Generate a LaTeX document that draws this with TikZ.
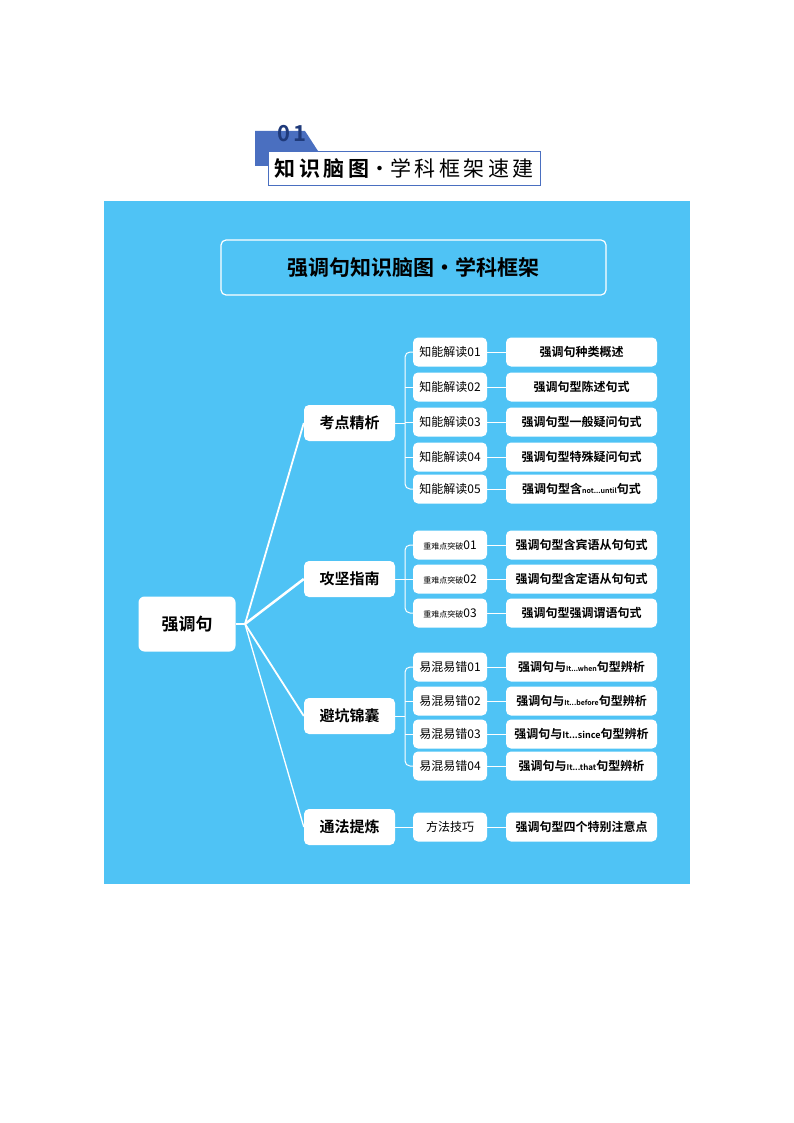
\documentclass[tikz,border=0pt]{standalone}
\usepackage{fontspec}
\setmainfont{Noto Sans CJK SC}
\newfontfamily\cjkb{Noto Sans CJK SC Bold}
\definecolor{bg}{HTML}{4FC3F5}
\definecolor{tab}{HTML}{4A6FC0}
\definecolor{dblue}{HTML}{1F3A7A}
\begin{document}
\begin{tikzpicture}[x=1pt,y=-1pt,
 l1/.style={fill=white,rounded corners=5pt,minimum width=91pt,minimum height=36pt,font=\cjkb\fontsize{15}{15}\selectfont,inner sep=0},
 l2/.style={fill=white,rounded corners=5pt,minimum width=74pt,minimum height=29pt,font=\fontsize{12}{12}\selectfont,inner sep=0},
 l3/.style={fill=white,rounded corners=5pt,minimum width=151pt,minimum height=29pt,font=\cjkb\fontsize{12}{12}\selectfont,inner sep=0},
 lk/.style={draw=white,line width=1pt},
 rt/.style={draw=white,line width=2pt}]
\useasboundingbox (0,0) rectangle (794,1123);
% header
\fill[tab] (255,131) -- (305,131) -- (318,151) -- (268,151) -- (268,166) -- (255,166) -- cycle;
\node[font=\cjkb\fontsize{22}{22}\selectfont,text=dblue] (h01) at (292,134) {0\,1};
\node[draw=tab,fill=white,minimum width=272pt,minimum height=34pt,inner sep=0,anchor=north west,font=\fontsize{21}{21}\selectfont] (hd) at (268,151) {{\cjkb 知\,识\,脑\,图}·学\,科\,框\,架\,速\,建};
% background
\fill[bg] (104,201) rectangle (690,884);
\node[draw=white,line width=1.2pt,rounded corners=5pt,minimum width=385pt,minimum height=55pt,font=\cjkb\fontsize{21}{21}\selectfont] (title) at (413.5,267.5) {强调句知识脑图•学科框架};
\node[fill=white,rounded corners=6pt,minimum width=97pt,minimum height=55pt,font=\cjkb\fontsize{17}{17}\selectfont] (root) at (187,624) {强调句};
\coordinate (hub) at (245,624);
\draw[rt] (root.east) -- (hub);
\node[l1] (a) at (349.5,423) {考点精析};
\node[l1] (b) at (349.5,579) {攻坚指南};
\node[l1] (c) at (349.5,716) {避坑锦囊};
\node[l1] (d) at (349.5,827) {通法提炼};
\draw[rt,line width=2.5pt] (hub) -- (b.west);
\draw[rt,line width=1.8pt] (hub) -- (a.west);
\draw[rt,line width=1.8pt] (hub) -- (c.west);
\draw[rt,line width=1.3pt] (hub) -- (d.west);
% level 2/3
\def\row#1#2#3#4{\node[l2] (#1x) at (450,#2) {#3}; \node[l3] (#1y) at (581.5,#2) {#4}; \draw[lk] (#1x.east) -- (#1y.west);}
\row{a1}{352}{知能解读01}{强调句种类概述}
\row{a2}{387}{知能解读02}{强调句型陈述句式}
\row{a3}{422}{知能解读03}{强调句型一般疑问句式}
\row{a4}{457}{知能解读04}{强调句型特殊疑问句式}
\row{a5}{489}{知能解读05}{强调句型含{\fontsize{7}{7}\selectfont not...until}句式}
\row{b1}{545}{{\fontsize{8}{8}\selectfont 重难点突破}01}{强调句型含宾语从句句式}
\row{b2}{579}{{\fontsize{8}{8}\selectfont 重难点突破}02}{强调句型含定语从句句式}
\row{b3}{613}{{\fontsize{8}{8}\selectfont 重难点突破}03}{强调句型强调谓语句式}
\row{c1}{667}{易混易错01}{强调句与{\fontsize{7}{7}\selectfont It...when}句型辨析}
\row{c2}{701}{易混易错02}{强调句与{\fontsize{7}{7}\selectfont It...before}句型辨析}
\row{c3}{734}{易混易错03}{强调句与{\fontsize{9}{9}\selectfont It...since}句型辨析}
\row{c4}{766}{易混易错04}{强调句与{\fontsize{8}{8}\selectfont It...that}句型辨析}
\row{d1}{827}{方法技巧}{强调句型四个特别注意点}
% brackets
\draw[lk] (a.east) -- (405,423);
\draw[lk,rounded corners=5pt] (a1x.west) -- (405,352) -- (405,489) -- (a5x.west);
\foreach \n in {a2,a3,a4} \draw[lk] (405,0 |- \n x.west) -- (\n x.west);
\draw[lk] (b.east) -- (405,579);
\draw[lk,rounded corners=5pt] (b1x.west) -- (405,545) -- (405,613) -- (b3x.west);
\draw[lk] (405,579) -- (b2x.west);
\draw[lk] (c.east) -- (405,716);
\draw[lk,rounded corners=5pt] (c1x.west) -- (405,667) -- (405,766) -- (c4x.west);
\foreach \n in {c2,c3} \draw[lk] (405,0 |- \n x.west) -- (\n x.west);
\draw[lk] (d.east) -- (d1x.west);
\end{tikzpicture}
\end{document}
